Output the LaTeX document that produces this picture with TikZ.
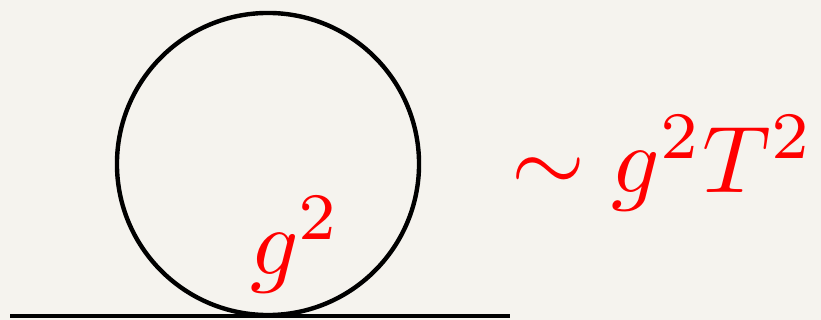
\documentclass[tikz,border=0pt]{standalone}
\definecolor{paper}{RGB}{245,243,238}
\newcommand{\bigmath}[1]{\scalebox{6.75}{$#1$}}
\begin{document}
\begin{tikzpicture}[
        x=0.025cm, y=-0.025cm,
        loop/.style={
            circle,
            draw,
            line width=1.1mm,
            minimum size=7.55cm,
            inner sep=0pt,
            outer sep=0pt
        },
        label/.style={
            text=red,
            anchor=base west,
            inner sep=0pt
        },
        prop/.style={line width=1.1mm}
    ]

        \fill[paper] (0,0) rectangle (821,320);
        \useasboundingbox (0,0) rectangle (821,320);

        \node[loop] (bubble) at (268,164) {};
        \coordinate (lin) at (10,316);
        \coordinate (rin) at (510,316);
        \node[label] (coupling) at (250,274) {\bigmath{g^2}};
        \node[label] (scaling) at (511,193) {\bigmath{\sim g^2T^2}};

        \draw[prop] (lin) -- (rin);

    \end{tikzpicture}
\end{document}
